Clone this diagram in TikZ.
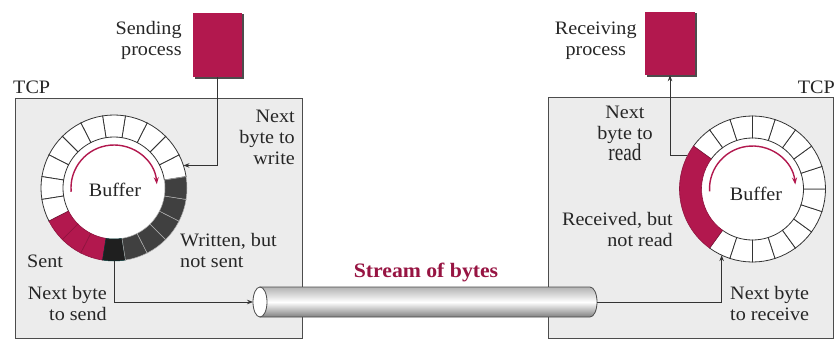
\documentclass[tikz,border=0pt]{standalone}
\usepackage{fontspec}
\setmainfont{Liberation Serif}[FakeStretch=1.06]
\newfontfamily\readfont{Liberation Serif}[FakeStretch=0.8]
\usepackage{xcolor}
\usetikzlibrary{arrows.meta, positioning, calc, shadows}
\definecolor{procred}{RGB}{178,24,78}
\definecolor{boxgray}{RGB}{236,236,236}

% one cell of a ring buffer: start angle, end angle, style
\newcommand{\bufcell}[3]{%
  \filldraw[#3] (#1:51pt) arc[start angle=#1, end angle=#2, radius=51pt]
    -- (#2:73pt) arc[start angle=#2, end angle=#1, radius=73pt] -- cycle;}

\begin{document}
\begin{tikzpicture}[
    x=1pt, y=1pt,
    lbl/.style={inner sep=0pt, font=\fontsize{19}{21}\selectfont, text=black!85},
    tcpbox/.style={draw=black!70, fill=boxgray, line width=1pt},
    proc/.style={fill=procred, minimum width=49pt, minimum height=64pt, drop shadow={shadow xshift=1.5pt, shadow yshift=-1.5pt, fill=black!70, opacity=1}},
    cellw/.style={fill=white, draw=black!80, line width=0.8pt},
    celld/.style={fill=black!75, draw=black!30, line width=0.5pt},
    celln/.style={fill=black!88, draw=teal!40!black, line width=0.5pt},
    cellr/.style={fill=procred, draw=procred!80!black, line width=0.6pt},
    arr/.style={-{Stealth[length=6pt, width=4.5pt]}, line width=0.9pt, draw=black!80},
    flow/.style={-{Stealth[length=7pt, width=5pt]}, line width=1.4pt, draw=procred}
]
    \useasboundingbox (0,0) rectangle (835,341);

    % the two TCP boxes
    \draw[tcpbox] (15,3) rectangle (302,243);
    \draw[tcpbox] (548,3) rectangle (833,244);
    \node[lbl, anchor=west] (ltcp) at (13,254) {TCP};
    \node[lbl, anchor=east] (rtcp) at (835,254) {TCP};

    % processes
    \node[proc] (sendp) at (217.5,296) {};
    \node[proc, minimum width=50pt, minimum height=63pt] (recvp) at (670,297.5) {};
    \node[lbl, align=right, left=11pt of sendp, yshift=5pt] (sendl) {Sending\\process};
    \node[lbl, align=center, left=8pt of recvp, yshift=3pt] (recvl) {Receiving\\process};

    % sending buffer
    \coordinate (lring) at (114,153);
    \begin{scope}[shift={(lring)}]
        \fill[white] (0,0) circle[radius=73pt];
        \foreach \a [evaluate=\a as \b using \a+18] in {9,27,...,189} \bufcell{\a}{\b}{cellw};
        \foreach \a [evaluate=\a as \b using \a+18] in {207,225,243} \bufcell{\a}{\b}{cellr};
        \bufcell{261}{279}{celln};
        \foreach \a [evaluate=\a as \b using \a+18] in {279,297,...,351} \bufcell{\a}{\b}{celld};
        \draw[flow] (185:43pt) arc[start angle=185, end angle=5, radius=43pt];
    \end{scope}
    \node[lbl] (lbuf) at (115,151) {Buffer};
    \node[lbl, anchor=east, align=right] (wrl) at (295,204) {Next\\byte to\\write};
    \node[lbl, anchor=west, align=left] (wnsl) at (180,91) {Written, but\\not sent};
    \node[lbl, anchor=west] (sentl) at (27,80) {Sent};
    \node[lbl, anchor=east, align=right] (sndl) at (107,38) {Next byte\\to send};

    % receiving buffer
    \coordinate (rring) at (752.5,152);
    \begin{scope}[shift={(rring)}]
        \fill[white] (0,0) circle[radius=73pt];
        \foreach \a [evaluate=\a as \b using \a+18] in {234,252,...,486} \bufcell{\a}{\b}{cellw};
        \bufcell{144}{234}{cellr};
        \draw[flow] (183:43pt) arc[start angle=183, end angle=6, radius=43pt];
    \end{scope}
    \node[lbl] (rbuf) at (756,147) {Buffer};
    \node[lbl, align=center] (rdl) at (625,208) {Next\\byte to\\{\readfont\fontsize{24}{21}\selectfont read}};
    \node[lbl, anchor=east, align=right] (rnrl) at (673,112) {Received, but\\not read};
    \node[lbl, anchor=west, align=left] (rcvl) at (730,38) {Next byte\\to receive};

    % stream of bytes
    \shade[top color=black!30, bottom color=black!50, middle color=white, draw=black!70, line width=0.8pt]
        (260,54) -- (590,54) arc[start angle=90, end angle=-90, x radius=7pt, y radius=15pt] -- (260,24) -- cycle;
    \filldraw[fill=white, draw=black!70, line width=0.8pt] (260,39) ellipse[x radius=7pt, y radius=15pt];
    \coordinate (pipein) at (253,39);
    \coordinate (pipeout) at (597,39);
    \node[font=\bfseries\fontsize{20.5}{22}\selectfont, text=procred!85!black] (streaml) at (426,69) {Stream of bytes};

    % connectors
    \coordinate (wr) at ($(lring)+(18:73pt)$);
    \coordinate (snd) at ($(lring)+(270:73pt)$);
    \coordinate (rd) at ($(rring)+(153:73pt)$);
    \coordinate (rcv) at ($(rring)+(245:73pt)$);
    \draw[arr] (sendp.south) |- (wr);
    \draw[arr] (snd) |- (pipein);
    \draw[arr] (pipeout) -| (rcv);
    \draw[arr] (rd) -| (recvp.south);
\end{tikzpicture}
\end{document}
